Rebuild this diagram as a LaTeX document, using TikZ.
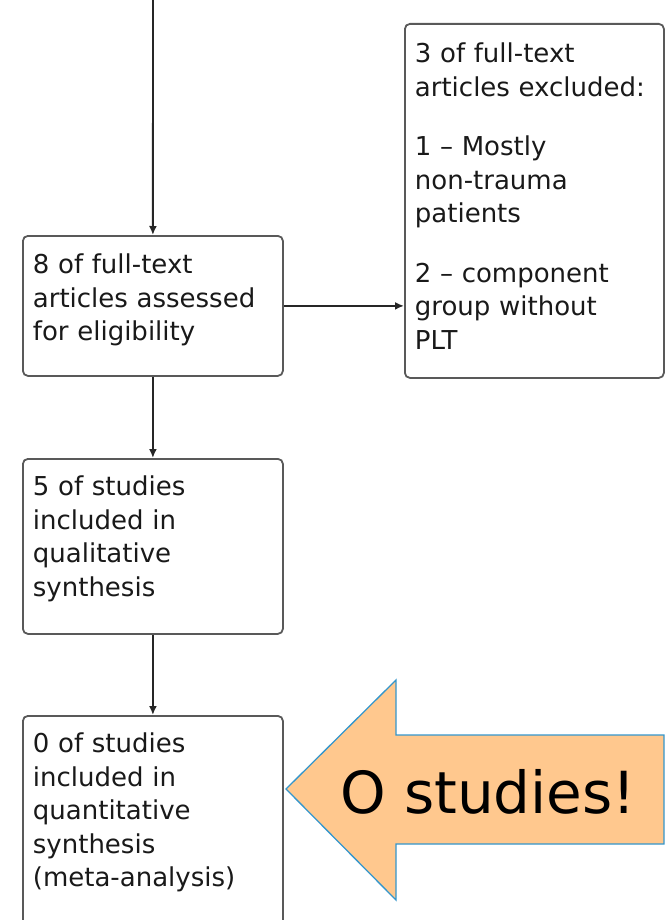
\documentclass[tikz,border=0pt]{standalone}
\usepackage{fontspec}
\setmainfont{DejaVu Sans}
\usetikzlibrary{arrows.meta}
\definecolor{peach}{RGB}{255,200,142}
\definecolor{calloutblue}{RGB}{52,150,204}

\begin{document}
\begin{tikzpicture}[x=1pt, y=-1pt,
			box/.style  = {draw=black!65, line width=1.8pt, rounded corners=5pt, anchor=north west, align=left, text width=240pt, inner xsep=10pt, inner ysep=0pt, text=black!90, font=\fontsize{26}{33.5}\selectfont},
			link/.style = {draw=black!85, line width=1.9pt, -{Latex[length=9pt, width=8pt]}},]
			
			\useasboundingbox (0,0) rectangle (667,920);
			
			%% FLOW BOXES
			\node[box, text height=38pt, text depth=102pt] (elig) at (22,235) {8 of full-text\\ articles assessed\\ for eligibility};
			\node[box, text width=239pt, text height=39pt, text depth=315pt] (excl) at (404,23) {3 of full-text\\ articles excluded:\\[26pt] 1 – Mostly\\ non-trauma\\ patients\\[26pt] 2 – component\\ group without\\ PLT};
			\node[box, text height=37pt, text depth=138pt] (qual) at (22,458) {5 of studies\\ included in\\ qualitative\\ synthesis};
			\node[box, text height=37pt, text depth=190pt] (quant) at (22,715) {0 of studies\\ included in\\ quantitative\\ synthesis\\ (meta-analysis)};
			
			%% CONNECTORS
			\coordinate (top) at (153,0);
			\draw[link] (top) -- (elig.north);
			\draw[link] (elig.east) -- (elig.east -| excl.west);
			\draw[link] (elig.south) -- (qual.north);
			\draw[link] (qual.south) -- (quant.north);
			
			% BIG CALLOUT ARROW
			\draw[calloutblue, line width=1.3pt, fill=peach] (286,789) -- (396,680) -- (396,735) -- (664,735) -- (664,844) -- (396,844) -- (396,900) -- cycle;
			\node[font=\fontsize{58}{60}\selectfont] (zero) at (488,792) {O studies!};
\end{tikzpicture}
\end{document}
